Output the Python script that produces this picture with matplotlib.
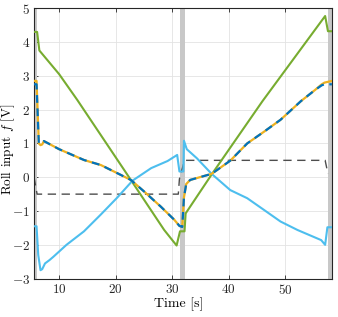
import numpy as np
import matplotlib
matplotlib.use('Agg')
from matplotlib import pyplot as plt

plt.rcParams['font.family'] = 'cmr10'
plt.rcParams['mathtext.fontset'] = 'cm'
plt.rcParams['axes.formatter.use_mathtext'] = True

# time / value pairs
t_green = [5.55, 6.1, 6.5, 10, 13.2, 22.7, 28.6, 30.8, 31.4, 32.2, 32.4, 37, 46, 57.1, 57.6, 58.3]
v_green = [4.3, 4.3, 3.75, 3.05, 2.29, -0.08, -1.56, -2.02, -1.6, -1.6, -1.07, 0.08, 2.25, 4.77, 4.32, 4.32]

t_cyan = [5.55, 6.0, 6.3, 6.7, 7.0, 7.5, 8.3, 9, 11.3, 14.4, 17.4, 20.3, 23, 26.3, 29.2, 30.9, 31.3,
          32.0, 32.1, 32.6, 34.4, 37, 40.3, 43.3, 46.3, 49.2, 52.2, 56.4, 57.1, 57.5, 58.3]
v_cyan = [-1.45, -1.45, -2.3, -2.75, -2.72, -2.55, -2.45, -2.35, -2.0, -1.6, -1.1, -0.6, -0.1, 0.27, 0.48, 0.66, 0.17,
          0.17, 1.08, 0.83, 0.56, 0.1, -0.38, -0.62, -0.97, -1.31, -1.56, -1.86, -2.0, -1.48, -1.48]

t_yellow = [5.55, 6.0, 6.4, 6.7, 7.0, 7.3, 10, 14.4, 17.4, 20.3, 22.7, 25.1, 28, 30.4, 31.3, 31.8,
            32.1, 32.5, 33.2, 37, 40.3, 43.3, 46.3, 49.2, 52.8, 55.3, 56.5, 57.0, 58.3]
v_yellow = [2.85, 2.85, 1.0, 0.95, 0.97, 1.07, 0.83, 0.51, 0.36, 0.12, -0.08, -0.43, -0.87, -1.26, -1.44, -1.47,
            -0.6, -0.2, -0.08, 0.1, 0.49, 1.0, 1.35, 1.7, 2.25, 2.58, 2.75, 2.8, 2.85]

t_blue = [5.55, 6.0, 6.4, 7.3, 10, 14.4, 17.4, 20.3, 22.7, 25.1, 28, 30.4, 31.3, 31.8,
          32.1, 32.5, 33.2, 37, 40.3, 43.3, 46.3, 49.2, 52.8, 55.3, 56.5, 57.0, 58.3]
v_blue = [2.75, 2.75, 1.0, 1.07, 0.83, 0.51, 0.36, 0.12, -0.08, -0.43, -0.87, -1.26, -1.44, -1.47,
          -0.6, -0.2, -0.08, 0.1, 0.49, 1.0, 1.35, 1.7, 2.25, 2.58, 2.72, 2.75, 2.75]

t_ref = [5.55, 6.1, 31.1, 31.3, 32.2, 57.1, 57.6]
v_ref = [0.0, -0.5, -0.5, -0.05, 0.5, 0.5, 0.1]

bands = [(5.55, 6.1), (31.4, 32.2), (57.6, 58.3)]

x_ticks = [10, 20, 30, 40, 50]
y_ticks = [-3, -2, -1, 0, 1, 2, 3, 4, 5]

fig = plt.figure(figsize=(3.38, 3.17), dpi=100)
ax = fig.add_axes([0.1006, 0.121, 0.8814, 0.853])

for a, b in bands:
    ax.axvspan(a, b, color='#c8c8c8', lw=0, zorder=1)

ax.plot(t_green, v_green, color='#77AC30', lw=1.5, zorder=3)
ax.plot(t_cyan, v_cyan, color='#4DBEEE', lw=1.5, zorder=3)
ax.plot(t_yellow, v_yellow, color='#EDB120', lw=1.6, zorder=4)
ax.plot(t_blue, v_blue, color='#0072BD', lw=1.6, ls=(0, (3.5, 2.5)), zorder=5)
ax.plot(t_ref, v_ref, color='#4d4d4d', lw=1.0, ls=(0, (6, 4)), zorder=2)

ax.set_xlim(5.55, 58.3)
ax.set_ylim(-3, 5)
ax.set_xticks(x_ticks)
ax.set_yticks(y_ticks)
ax.grid(True, color='#e3e3e3', lw=0.6, zorder=0)
ax.set_axisbelow(True)
ax.tick_params(direction='in', length=3, width=0.6, top=True, right=True,
               labelsize=9.5, colors='#262626', pad=3)
for s in ax.spines.values():
    s.set_color('#262626')
    s.set_linewidth(0.8)

ax.set_xlabel('Time [s]', fontsize=10)
ax.set_ylabel(r'Roll input $f$ [V]', fontsize=9.5)
ax.xaxis.set_label_coords(0.485, -0.068)
ax.yaxis.set_label_coords(-0.058, 0.48)

fig.savefig('out.png', dpi=100)
